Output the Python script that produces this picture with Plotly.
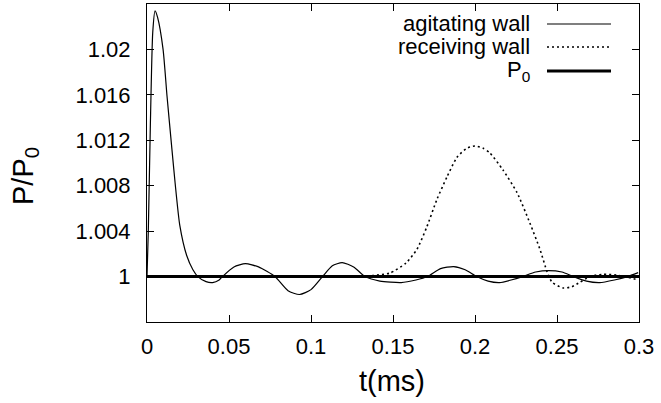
import plotly.graph_objects as go

# agitating wall (solid thin)
t_agit = [0.0, 0.0008, 0.002, 0.0035, 0.0049, 0.0065, 0.0098, 0.0122, 0.0152, 0.0171, 0.020, 0.0242,
          0.028, 0.031, 0.036, 0.040, 0.044, 0.046, 0.053, 0.060, 0.068, 0.078, 0.086, 0.093, 0.100,
          0.107, 0.113, 0.119, 0.126, 0.133, 0.142, 0.155, 0.164, 0.171, 0.179, 0.187, 0.194, 0.201,
          0.208, 0.215, 0.222, 0.229, 0.237, 0.245, 0.253, 0.260, 0.268, 0.276, 0.285, 0.293, 0.2995]
p_agit = [1.0, 1.004, 1.013, 1.0215, 1.0234, 1.0228, 1.020, 1.0159, 1.0112, 1.0083, 1.0045, 1.00185,
          1.0006, 1.0, 0.99955, 0.99947, 0.9997, 1.0, 1.00085, 1.00114, 1.00085, 1.0, 0.99875, 0.99842, 0.99885,
          1.0, 1.00095, 1.00123, 1.00085, 1.0, 0.9996, 0.99947, 0.9997, 1.0, 1.0007, 1.00088, 1.0006, 1.0,
          0.9996, 0.99947, 0.9997, 1.0, 1.0004, 1.00053, 1.0004, 1.0, 0.9996, 0.99947, 0.9997, 1.0, 1.00035]

# receiving wall (dotted)
t_recv = [0.0, 0.05, 0.10, 0.125, 0.138, 0.148, 0.158, 0.1646, 0.1707, 0.1768, 0.183, 0.189, 0.195,
          0.200, 0.205, 0.209, 0.217, 0.2256, 0.2335, 0.2396, 0.244, 0.247, 0.2537, 0.259, 0.264,
          0.270, 0.278, 0.288, 0.2995]
p_recv = [1.0, 1.0, 1.0, 1.0, 1.0001, 1.0003, 1.0012, 1.0024, 1.0044, 1.0068, 1.0088, 1.0105, 1.0113,
          1.0115, 1.0113, 1.0109, 1.0094, 1.0074, 1.0047, 1.0024, 1.0004, 0.9995, 0.9990, 0.9991, 0.9995,
          1.0, 1.0002, 1.0001, 0.9997]

# P0 reference
t_p0 = [0.0, 0.3]
p_p0 = [1.0, 1.0]

x_ticks = [0, 0.05, 0.1, 0.15, 0.2, 0.25, 0.3]
x_ticktext = ["0", "0.05", "0.1", "0.15", "0.2", "0.25", "0.3"]
y_ticks = [1.0, 1.004, 1.008, 1.012, 1.016, 1.02]
y_ticktext = ["1", "1.004", "1.008", "1.012", "1.016", "1.02"]

legend_labels = ["agitating wall", "receiving wall", "P<sub>0</sub>"]

FONT = "Liberation Sans, Arial, sans-serif"

fig = go.Figure()
fig.add_trace(go.Scatter(x=t_agit, y=p_agit, mode="lines",
                         line=dict(color="black", width=1.2, shape="spline", smoothing=0.6),
                         showlegend=False))
fig.add_trace(go.Scatter(x=t_recv, y=p_recv, mode="lines",
                         line=dict(color="black", width=1.6, dash="2px,3px", shape="spline", smoothing=0.6),
                         showlegend=False))
fig.add_trace(go.Scatter(x=t_p0, y=p_p0, mode="lines",
                         line=dict(color="black", width=3), showlegend=False))

W, H = 661, 403
L, R, T, B = 147, 22, 4, 81
pw, ph = W - L - R, H - T - B

def px2paper(px, py):
    return (px - L) / pw, (H - B - py) / ph

# manual gnuplot-style legend (text right-aligned, sample on the right)
rows = [24, 47, 71]
styles = [dict(color="black", width=1.2), dict(color="black", width=1.6, dash="2px,3px"),
          dict(color="black", width=3)]
annotations = []
shapes = []
for lab, py, st in zip(legend_labels, rows, styles):
    xa, ya = px2paper(532, py)
    annotations.append(dict(x=xa, y=ya, xref="paper", yref="paper", text=lab, showarrow=False,
                            xanchor="right", yanchor="middle", font=dict(size=22, family=FONT, color="black")))
    x0, y0 = px2paper(547, py)
    x1, _ = px2paper(611, py)
    shapes.append(dict(type="line", xref="paper", yref="paper", x0=x0, x1=x1, y0=y0, y1=y0, line=st))

# axis titles
annotations.append(dict(x=px2paper(392, 0)[0], y=px2paper(0, 381)[1], xref="paper", yref="paper",
                        text="t(ms)", showarrow=False, xanchor="center", yanchor="middle",
                        font=dict(size=29, family=FONT, color="black")))
annotations.append(dict(x=px2paper(25, 0)[0], y=px2paper(0, 176)[1], xref="paper", yref="paper",
                        text="P/P<sub>0</sub>", showarrow=False, textangle=-90, xanchor="center",
                        yanchor="middle", font=dict(size=29, family=FONT, color="black")))

axis_common = dict(showgrid=False, zeroline=False, showline=True, linecolor="black", linewidth=1,
                   mirror="allticks", ticks="inside", ticklen=7, tickcolor="black", tickwidth=1,
                   tickfont=dict(size=22, family=FONT, color="black"))

fig.update_layout(
    width=W, height=H,
    margin=dict(l=L, r=R, t=T, b=B, pad=0),
    paper_bgcolor="white", plot_bgcolor="white",
    xaxis=dict(range=[0, 0.3], tickvals=x_ticks, ticktext=x_ticktext, ticklabelstandoff=5, **axis_common),
    yaxis=dict(range=[0.996, 1.024], tickvals=y_ticks, ticktext=y_ticktext, ticklabelstandoff=11, **axis_common),
    annotations=annotations,
    shapes=shapes,
)

fig.write_html("out.html", config={"displayModeBar": False},
               post_script="document.body.style.margin='0';document.body.style.overflow='hidden';")
